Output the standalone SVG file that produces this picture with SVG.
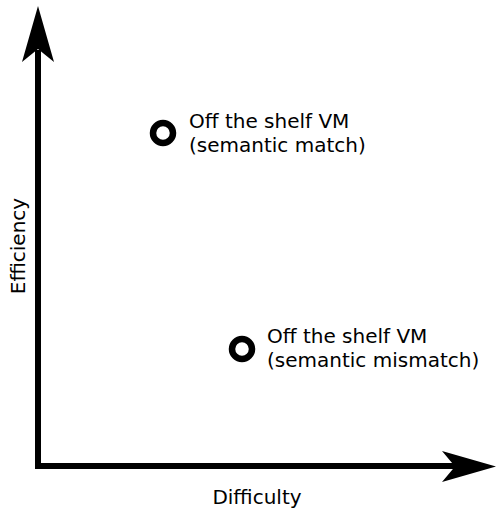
<svg xmlns="http://www.w3.org/2000/svg" width="496" height="509" viewBox="0 0 496 509">
  <style>
    .axis { fill: none; stroke: #000; stroke-width: 6; stroke-linejoin: miter; stroke-linecap: butt; }
    .head { fill: #000; stroke: none; }
    .pt { fill: none; stroke: #000; stroke-width: 6.5; }
    text { font-family: "DejaVu Sans", sans-serif; font-size: 20px; fill: #000; }
  </style>
  <rect width="496" height="509" fill="#fff"/>
  <g id="connectors">
    <!-- axes -->
    <path class="axis" d="M38 50 V466 H456"/>
    <!-- arrowheads -->
    <path class="head" d="M38 6 L54 62 L38 49 L22 62 Z"/>
    <path class="head" d="M496 466.5 L442 482 L455 466.5 L442 451 Z"/>
  </g>
  <g id="label-y">
    <text x="25" y="246" text-anchor="middle" transform="rotate(-90 25 246)">Efficiency</text>
  </g>
  <g id="label-x">
    <text x="257" y="504" text-anchor="middle">Difficulty</text>
  </g>
  <g id="node-match">
    <circle class="pt" cx="163" cy="133" r="10"/>
    <text x="189" y="128">Off the shelf VM</text>
    <text x="189" y="152">(semantic match)</text>
  </g>
  <g id="node-mismatch">
    <circle class="pt" cx="242" cy="349" r="10"/>
    <text x="267" y="343">Off the shelf VM</text>
    <text x="267" y="367">(semantic mismatch)</text>
  </g>
</svg>
